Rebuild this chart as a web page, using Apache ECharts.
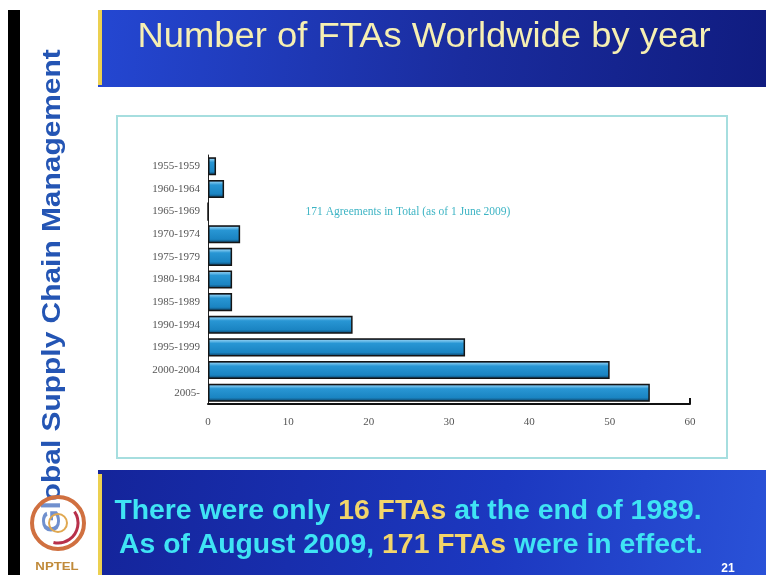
<!DOCTYPE html>
<html>
<head>
<meta charset="utf-8">
<script src="https://cdn.jsdelivr.net/npm/echarts@6/dist/echarts.min.js"></script>
<style>
  html, body { margin: 0; padding: 0; background: #fff; }
  #main { width: 766px; height: 575px; }
</style>
</head>
<body>
<div id="main"></div>
<script>
// periods, top to bottom
var periods = ['1955-1959', '1960-1964', '1965-1969', '1970-1974', '1975-1979',
  '1980-1984', '1985-1989', '1990-1994', '1995-1999', '2000-2004', '2005-'];
// number of FTAs per period (sums to 171)
var ftaCounts = [1, 2, 0, 4, 3, 3, 3, 18, 32, 50, 55];

var titleText = 'Number of FTAs Worldwide by year';
var noteText = '171 Agreements in Total (as of 1 June 2009)';
var sideText = 'Global Supply Chain Management';

var chart = echarts.init(document.getElementById('main'), null, { renderer: 'canvas' });

var titleGrad = new echarts.graphic.LinearGradient(0, 0, 1, 1, [
  { offset: 0, color: '#2447d2' },
  { offset: 0.55, color: '#1a2c9e' },
  { offset: 1, color: '#101c80' }
]);
var footGrad = new echarts.graphic.LinearGradient(0, 0, 1, 1, [
  { offset: 0, color: '#14249a' },
  { offset: 0.6, color: '#1c38c0' },
  { offset: 1, color: '#2a52d8' }
]);

var barGrad = new echarts.graphic.LinearGradient(0, 0, 0, 1, [
  { offset: 0, color: '#0c2a62' },
  { offset: 0.12, color: '#7cc6ee' },
  { offset: 0.28, color: '#2896d4' },
  { offset: 0.78, color: '#1a84c2' },
  { offset: 1, color: '#0b3656' }
]);

var capsText = function (text, x, y) {
  return {
    type: 'text', x: x, y: y, scaleX: 1.05, silent: true,
    style: {
      text: text, align: 'center', verticalAlign: 'middle',
      rich: {
        c: { fill: '#3fe4f4', font: 'bold 27px "Liberation Sans"' },
        y: { fill: '#f3d56a', font: 'bold 27px "Liberation Sans"' }
      }
    }
  };
};

var option = {
  backgroundColor: '#ffffff',
  animation: false,
  grid: { left: 208, right: 76, top: 155, bottom: 171 },
  xAxis: {
    type: 'value',
    min: 0,
    max: 60,
    interval: 10,
    splitLine: { show: false },
    axisLine: { show: true, lineStyle: { color: '#111', width: 2 } },
    // only the end tick at 60 is visible in the original
    axisTick: { show: true, inside: true, length: 6, customValues: [60], lineStyle: { color: '#111', width: 2 } },
    axisLabel: { margin: 13, color: '#555', fontFamily: 'Liberation Serif', fontSize: 11 }
  },
  yAxis: {
    type: 'category',
    inverse: true,
    data: periods,
    axisLine: { show: true, lineStyle: { color: '#222', width: 1 } },
    axisTick: { show: false },
    axisLabel: { margin: 8, color: '#555', fontFamily: 'Liberation Serif', fontSize: 11 }
  },
  series: [{
    type: 'bar',
    data: ftaCounts,
    barCategoryGap: '20%',
    itemStyle: { color: barGrad, borderColor: '#151515', borderWidth: 1.5 }
  }],
  graphic: [
    // left black edge
    { type: 'rect', shape: { x: 8, y: 10, width: 12, height: 565 }, style: { fill: '#000' }, silent: true },
    // title band
    { type: 'rect', shape: { x: 98, y: 10, width: 668, height: 77 }, style: { fill: titleGrad }, silent: true },
    { type: 'rect', shape: { x: 98, y: 10, width: 4, height: 75 }, style: { fill: '#ecd050' }, silent: true },
    { type: 'text', x: 424, y: 37, scaleX: 1.04, style: { text: titleText, fill: '#f6efb2', font: '35px "Liberation Sans"', align: 'center', verticalAlign: 'middle' }, silent: true },
    // chart frame
    { type: 'rect', shape: { x: 117, y: 116, width: 610, height: 342 }, style: { fill: 'none', stroke: '#a6dedf', lineWidth: 2 }, silent: true, z: -1 },
    // annotation
    { type: 'text', x: 408, y: 212, style: { text: noteText, fill: '#3db4c4', font: '11.5px "Liberation Serif"', align: 'center', verticalAlign: 'middle' }, silent: true },
    // bottom band
    { type: 'rect', shape: { x: 98, y: 470, width: 668, height: 105 }, style: { fill: footGrad }, silent: true },
    { type: 'rect', shape: { x: 98, y: 474, width: 4, height: 101 }, style: { fill: '#ecd050' }, silent: true },
    capsText('{c|There were only }{y|16 FTAs}{c| at the end of 1989.}', 408, 512),
    capsText('{c|As of August 2009, }{y|171 FTAs}{c| were in effect.}', 411, 546),
    { type: 'text', x: 728, y: 569, style: { text: '21', fill: '#ffffff', font: 'bold 12px "Liberation Sans"', align: 'center', verticalAlign: 'middle' }, silent: true },
    // side title
    { type: 'text', x: 53, y: 291, rotation: Math.PI / 2, scaleX: 1.15, style: { text: sideText, fill: '#2455b4', font: 'bold 26px "Liberation Sans"', align: 'center', verticalAlign: 'middle' }, silent: true },
    // logo
    { type: 'circle', shape: { cx: 58, cy: 523, r: 26 }, style: { fill: 'rgba(255,255,255,0.35)', stroke: '#d07040', lineWidth: 4 }, silent: true },
    { type: 'arc', shape: { cx: 58, cy: 523, r: 20, startAngle: -0.6, endAngle: 1.8 }, style: { stroke: '#b8304a', lineWidth: 3, fill: 'none' }, silent: true },
    { type: 'circle', shape: { cx: 58, cy: 523, r: 9 }, style: { fill: 'none', stroke: '#e0a850', lineWidth: 2 }, silent: true },
    { type: 'text', x: 57, y: 567, scaleX: 1.2, style: { text: 'NPTEL', fill: '#c08a3a', font: 'bold 11px "Liberation Sans"', align: 'center', verticalAlign: 'middle' }, silent: true }
  ]
};

chart.setOption(option);
</script>
</body>
</html>
